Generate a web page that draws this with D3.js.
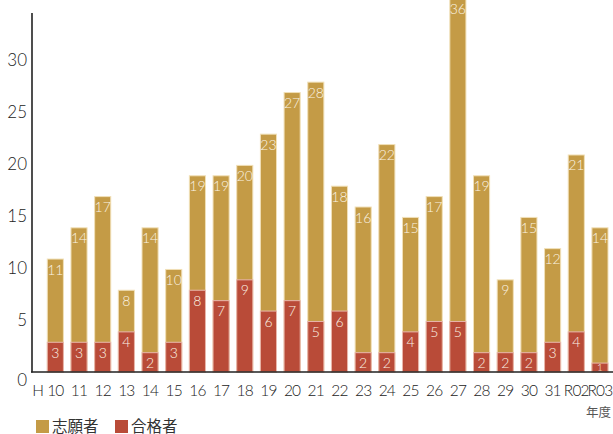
<!DOCTYPE html>
<html><head><meta charset="utf-8">
<script src="https://cdn.jsdelivr.net/npm/d3@7"></script>
<style>
body{margin:0;background:#fff;}
text{font-family:Lato,"Noto Sans","Noto Sans CJK JP",sans-serif;}
</style></head>
<body>
<svg id="c" width="613" height="434"></svg>
<script>
const categories = ["10","11","12","13","14","15","16","17","18","19","20","21","22","23","24","25","26","27","28","29","30","31","R02","R03"];
const applicants = [11,14,17,8,14,10,19,19,20,23,27,28,18,16,22,15,17,36,19,9,15,12,21,14];
const passers = [3,3,3,4,2,3,8,7,9,6,7,5,6,2,2,4,5,5,2,2,2,3,4,1];
const yTicks = [0,5,10,15,20,25,30];
const seriesNames = ["志願者","合格者"];
const colors = ["#C49B46","#B94B38"];
const edge = ["#F1E0B8","#E9B7AC"];

const svg = d3.select("#c");
const x = d3.scaleBand().domain(categories).range([43.5, 611.8]).paddingInner(0.32).paddingOuter(0.16);
const y = d3.scaleLinear().domain([0, 34.5]).range([372, 13]);

const g = svg.append("g");
function drawBars(vals, i){
  g.selectAll(".b"+i).data(vals).join("rect")
    .attr("x",(d,j)=>x(categories[j])).attr("width",x.bandwidth())
    .attr("y",d=>y(d)+1.5).attr("height",d=>y(0)-y(d)-1.5)
    .attr("fill",colors[i]).attr("stroke",edge[i]).attr("stroke-width",1);
}
drawBars(applicants,0);
drawBars(passers,1);

function drawLabels(vals){
  g.selectAll(null).data(vals).join("text")
    .attr("x",(d,j)=>x(categories[j])+x.bandwidth()/2)
    .attr("y",d=> d<2 ? y(0)-1 : y(d)+17)
    .attr("text-anchor","middle").attr("fill","#FBF3E4")
    .attr("font-size",d=> d<2 ? 10 : 14).attr("font-weight",300)
    .text(d=>d);
}
drawLabels(applicants);
drawLabels(passers);

svg.append("line").attr("x1",32).attr("x2",32).attr("y1",13).attr("y2",372.5).attr("stroke","#222").attr("stroke-width",1.6);
svg.append("line").attr("x1",31).attr("x2",613).attr("y1",372).attr("y2",372).attr("stroke","#222").attr("stroke-width",1.6);

svg.selectAll(".yt").data(yTicks).join("text")
  .attr("x",27).attr("y",d=>y(d)+6 + (d===0?8:0))
  .attr("text-anchor","end").attr("font-size",17).attr("font-weight",300).attr("fill","#222")
  .text(d=>d);

svg.selectAll(".xt").data(categories).join("text")
  .attr("x",d=>x(d)+x.bandwidth()/2).attr("y",396)
  .attr("text-anchor","middle").attr("font-size",15.5).attr("font-weight",300).attr("fill","#222")
  .attr("letter-spacing",-0.8)
  .text(d=>d);
svg.append("text").attr("x",38).attr("y",396).attr("text-anchor","middle").attr("font-size",15.5).attr("font-weight",300).attr("fill","#222").text("H");

svg.append("text").attr("x",611).attr("y",417).attr("text-anchor","end").attr("font-size",12.5).attr("fill","#555").text("年度");

const leg = [{n:seriesNames[0],c:colors[0],x:36},{n:seriesNames[1],c:colors[1],x:115}];
leg.forEach(l=>{
  svg.append("rect").attr("x",l.x).attr("y",420).attr("width",13).attr("height",13).attr("fill",l.c);
  svg.append("text").attr("x",l.x+16).attr("y",432).attr("font-size",15.5).attr("fill","#333").text(l.n);
});
</script>
</body></html>
